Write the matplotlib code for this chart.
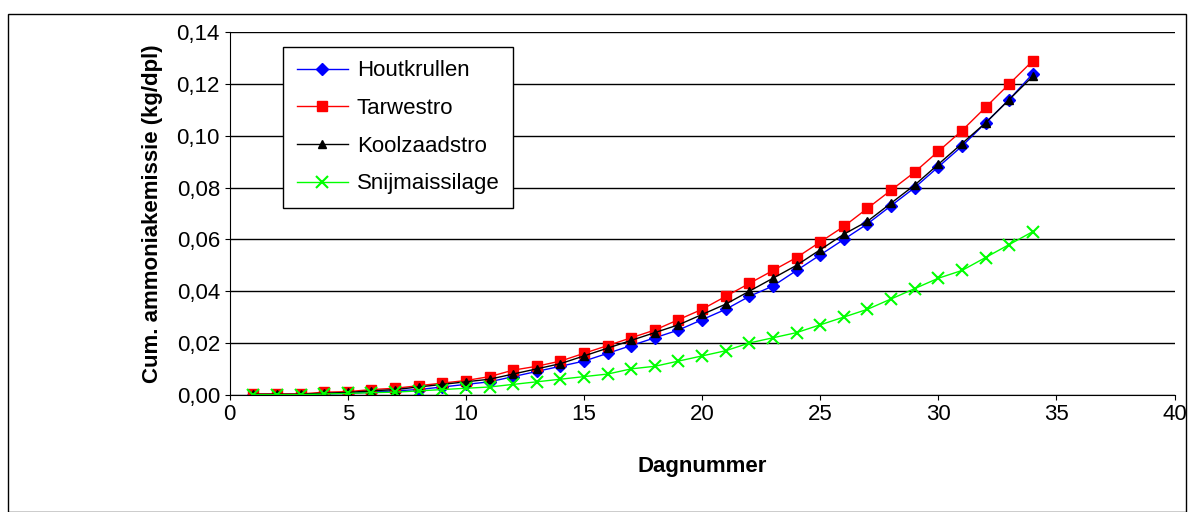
import matplotlib
matplotlib.use("Agg")
import matplotlib.pyplot as plt
from matplotlib.patches import Rectangle

days = list(range(1, 35))
houtkrullen = [0, 0, 0, 0.0003, 0.0005, 0.001, 0.0015, 0.002, 0.003, 0.004, 0.005, 0.007, 0.009, 0.011,
               0.013, 0.016, 0.019, 0.022, 0.025, 0.029, 0.033, 0.038, 0.042, 0.048, 0.054, 0.060, 0.066,
               0.073, 0.080, 0.088, 0.096, 0.105, 0.114, 0.124]
tarwestro = [0.0003, 0.0003, 0.0003, 0.001, 0.0012, 0.002, 0.0025, 0.0035, 0.0045, 0.0055, 0.007, 0.0095,
             0.011, 0.013, 0.016, 0.019, 0.022, 0.025, 0.029, 0.033, 0.038, 0.043, 0.048, 0.053, 0.059,
             0.065, 0.072, 0.079, 0.086, 0.094, 0.102, 0.111, 0.120, 0.129]
koolzaadstro = [0.0002, 0.0002, 0.0002, 0.0006, 0.0009, 0.0015, 0.002, 0.003, 0.004, 0.005, 0.006, 0.008,
                0.010, 0.012, 0.015, 0.018, 0.021, 0.024, 0.027, 0.031, 0.035, 0.040, 0.045, 0.050, 0.056,
                0.062, 0.067, 0.074, 0.081, 0.089, 0.097, 0.105, 0.114, 0.123]
snijmais = [0, 0, 0, 0.0003, 0.0005, 0.0008, 0.001, 0.0015, 0.002, 0.0025, 0.003, 0.004, 0.005, 0.006,
            0.007, 0.008, 0.010, 0.011, 0.013, 0.015, 0.017, 0.020, 0.022, 0.024, 0.027, 0.030, 0.033,
            0.037, 0.041, 0.045, 0.048, 0.053, 0.058, 0.063]

plt.rcParams['font.family'] = ['Liberation Sans', 'DejaVu Sans']
fig = plt.figure(figsize=(11.9, 5.12), dpi=100)
fig.patches.append(Rectangle((0.007, 0.0), 0.99, 0.972, transform=fig.transFigure,
                             fill=False, edgecolor='black', linewidth=1))
ax = fig.add_axes([0.193, 0.229, 0.794, 0.708])
ax.plot(days, houtkrullen, color='#0000ff', marker='D', markersize=6, lw=1, label='Houtkrullen')
ax.plot(days, tarwestro, color='#ff0000', marker='s', markersize=7, lw=1, label='Tarwestro')
ax.plot(days, koolzaadstro, color='black', marker='^', markersize=6, lw=1, label='Koolzaadstro')
ax.plot(days, snijmais, color='#00ff00', marker='x', markersize=8, mew=1.5, lw=1, label='Snijmaissilage')
ax.set_xlim(0, 40)
ax.set_ylim(0, 0.14)
ax.set_xticks(range(0, 41, 5))
ax.set_yticks([i * 0.02 for i in range(8)])
ax.set_yticklabels([f"{i*0.02:.2f}".replace('.', ',') for i in range(8)])
ax.tick_params(labelsize=16, direction='out')
ax.yaxis.grid(True, color='black', lw=1)
ax.set_axisbelow(True)
for s in ['top', 'right']:
    ax.spines[s].set_visible(False)
ax.set_xlabel('Dagnummer', fontsize=16, fontweight='bold', labelpad=22)
ax.set_ylabel('Cum. ammoniakemissie (kg/dpl)', fontsize=16, fontweight='bold', labelpad=10)
leg = ax.legend(loc='upper left', bbox_to_anchor=(0.045, 0.99), fontsize=16, frameon=True,
                fancybox=False, edgecolor='black', framealpha=1, handlelength=2.3,
                labelspacing=0.75, borderpad=0.6, handletextpad=0.4)
leg.get_frame().set_linewidth(1)
fig.savefig('out.png')
